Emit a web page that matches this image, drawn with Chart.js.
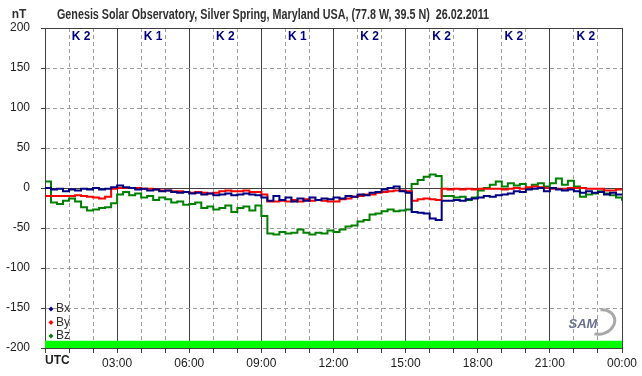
<!DOCTYPE html>
<html>
<head>
<meta charset="utf-8">
<script src="https://cdn.jsdelivr.net/npm/chart.js@4.4.0/dist/chart.umd.min.js"></script>
<style>body{margin:0;background:#fff}</style>
</head>
<body>
<canvas id="magChart" width="642" height="376"></canvas>
<script>
// readings every 15 min, 00:00 .. 24:00 UTC (nT)
const stepH = 0.25
const bx = [0,-2,-1,-4,-2,-3,-1,-2,0,-2,-1,1,3,1,0,-2,-1,-3,-2,-4,-3,-5,-6,-5,-7,-6,-8,-7,-9,-8,-7,-9,-8,-7,-8,-9,
  -12,-16,-10,-15,-12,-17,-13,-16,-12,-15,-13,-14,-12,-13,-10,-11,-8,-9,-6,-5,-2,0,2,-4,-6,-30,-31,-32,-38,-40,
  -16,-16,-15,-16,-14,-13,-12,-10,-11,-9,-8,-7,-4,-5,-2,-1,0,-4,0,-2,-3,-2,-4,-6,-4,-6,-5,-8,-6,-8,-7]
const by = [-10,-10,-10,-10,-10,-9,-10,-11,-12,-13,-11,-1,0,0,0,0,-1,-1,-2,-3,-3,-4,-4,-5,-6,-5,-6,-7,-6,-4,-3,-4,
  -4,-3,-5,-5,-8,-17,-17,-16,-17,-15,-17,-14,-16,-15,-16,-17,-17,-14,-13,-11,-10,-8,-8,-6,-5,-4,-3,-3,-4,-16,-14,
  -13,-14,-15,-1,-2,-1,-2,-1,-2,-1,-1,-1,-1,-2,-1,0,-1,1,2,1,0,-1,-1,-1,0,0,0,-1,-1,-1,-3,-3,-2,-2]
const bz = [8,-18,-20,-16,-13,-17,-24,-28,-27,-25,-24,-19,-8,-5,-9,-7,-12,-10,-15,-12,-14,-18,-17,-21,-20,-18,-25,
  -23,-27,-25,-22,-30,-25,-23,-28,-22,-35,-57,-58,-55,-57,-56,-52,-56,-58,-56,-57,-53,-55,-52,-48,-47,-42,-40,-33,
  -32,-29,-27,-29,-28,-27,5,10,14,17,15,-10,-10,-12,-11,-15,-12,-3,0,4,8,2,6,3,5,0,4,6,2,6,12,4,9,2,-11,-8,-7,
  -4,-7,-9,-12,-16]
const kIndex = [2, 1, 2, 1, 2, 2, 2, 2]
const xTickLabels = ['UTC', '03:00', '06:00', '09:00', '12:00', '15:00', '18:00', '21:00', '00:00']
const statusBand = [-191, -191]

const fontFam = "'Liberation Sans', Arial, sans-serif"
const toPts = (arr) => arr.map((v, i) => ({ x: i * stepH, y: v }))

const lineSet = (label, arr, color) => ({
    label: label,
    data: toPts(arr),
    borderColor: color,
    backgroundColor: color,
    borderWidth: 2,
    pointRadius: 0,
    stepped: true,
    fill: false
})

const decor = {
    id: 'decor',
    afterDraw(chart) {
        const c = chart.ctx
        const xs = chart.scales.x
        const area = chart.chartArea
        c.save()
        c.fillStyle = '#303030'
        c.textBaseline = 'alphabetic'
        c.textAlign = 'center'
        c.font = 'bold 14px ' + fontFam
        c.fillText('Genesis Solar Observatory, Silver Spring, Maryland USA, (77.8 W, 39.5 N)  26.02.2011', 273, 19, 432)
        c.font = 'bold 12px ' + fontFam
        c.fillText('nT', 19, 18)
        // K index per 3h block
        c.fillStyle = '#000080'
        c.textBaseline = 'middle'
        kIndex.forEach((k, i) => {
            c.fillText('K ' + k, xs.getPixelForValue(i * 3 + 1.5), area.top + 9)
        })
        // UTC label
        c.fillStyle = '#202020'
        c.textAlign = 'left'
        c.font = 'bold 12px ' + fontFam
        c.fillText(xTickLabels[0], area.left, 361)
        // legend
        c.font = '12px ' + fontFam
        chart.data.datasets.slice(0, 3).forEach((ds, i) => {
            const y = 309 + i * 13.5
            c.fillStyle = ds.borderColor
            c.beginPath()
            c.moveTo(51, y - 2.5); c.lineTo(53.5, y); c.lineTo(51, y + 2.5); c.lineTo(48.5, y); c.closePath()
            c.fill()
            c.fillStyle = '#303030'
            c.fillText(ds.label, 56, y)
        })
        // logo
        c.strokeStyle = '#a8a8a8'
        c.lineWidth = 3
        c.beginPath()
        c.ellipse(600, 322, 15, 12, -0.3, -1.3, 2.2)
        c.stroke()
        c.fillStyle = '#6a7090'
        c.font = 'italic bold 13px ' + fontFam
        c.textAlign = 'center'
        c.fillText('SAM', 583, 324)
        c.restore()
    }
}

const config = {
    type: 'line',
    data: {
        datasets: [
            lineSet('Bx', bx, '#000080'),
            lineSet('By', by, '#ff0000'),
            lineSet('Bz', bz, '#008000'),
            {
                label: 'status',
                data: [{ x: 0, y: statusBand[0] }, { x: 24, y: statusBand[1] }],
                borderWidth: 0,
                pointRadius: 0,
                backgroundColor: '#00ff00',
                fill: 'start'
            }
        ]
    },
    options: {
        responsive: false,
        animation: false,
        layout: { padding: { left: 0, right: 20, top: 28, bottom: 0 } },
        plugins: { legend: { display: false }, tooltip: { enabled: false } },
        scales: {
            x: {
                type: 'linear',
                min: 0,
                max: 24,
                afterFit: (s) => { s.height = 28 },
                ticks: {
                    stepSize: 1,
                    autoSkip: false,
                    maxRotation: 0,
                    padding: 3,
                    color: '#202020',
                    font: { family: fontFam, size: 12 },
                    callback: (v) => (v % 3 === 0 && v > 0) ? xTickLabels[v / 3] : ''
                },
                grid: {
                    color: (ctx) => (ctx.tick && ctx.tick.value % 3 === 0) ? '#404040' : '#a0a0a0',
                    tickColor: '#404040',
                    tickLength: 5
                },
                border: {
                    color: '#404040',
                    dash: (ctx) => (ctx.tick && ctx.tick.value % 3 !== 0) ? [4, 3] : []
                }
            },
            y: {
                min: -200,
                max: 200,
                afterFit: (s) => { s.width = 45 },
                ticks: {
                    stepSize: 50,
                    padding: 11,
                    color: '#202020',
                    font: { family: fontFam, size: 12 }
                },
                grid: {
                    color: (ctx) => (ctx.tick && Math.abs(ctx.tick.value) % 200 === 0) ? '#404040' : '#a0a0a0',
                    tickColor: '#404040',
                    tickLength: 4
                },
                border: {
                    color: '#404040',
                    dash: (ctx) => (ctx.tick && Math.abs(ctx.tick.value) % 200 !== 0) ? [4, 3] : []
                }
            }
        }
    },
    plugins: [decor]
}

new Chart(document.getElementById('magChart'), config)
</script>
</body>
</html>
